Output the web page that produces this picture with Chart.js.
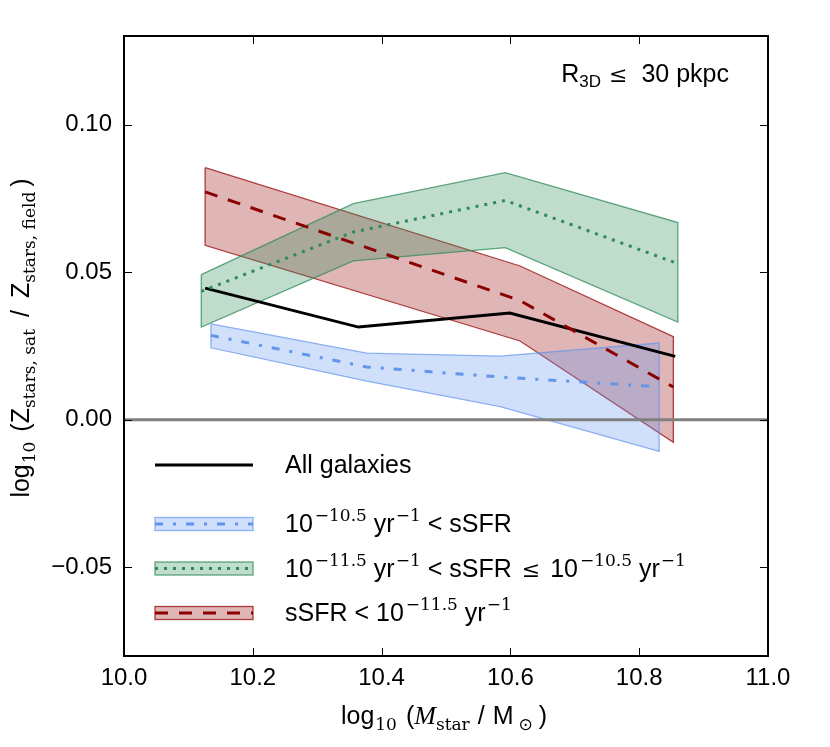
<!DOCTYPE html>
<html>
<head>
<meta charset="utf-8">
<script src="https://cdn.jsdelivr.net/npm/chart.js@4.4.1/dist/chart.umd.min.js"></script>
<style>
  html, body { margin: 0; padding: 0; background: #fff; }
  #wrap { width: 830px; height: 747px; }
</style>
</head>
<body>
<div id="wrap"><canvas id="myChart" width="830" height="747"></canvas></div>
<script>
// tick values
var xTicks = [10.0, 10.2, 10.4, 10.6, 10.8, 11.0];
var yTicks = [-0.05, 0.0, 0.05, 0.10];

// all galaxies (median)
var allX = [10.126, 10.364, 10.599, 10.856];
var allY = [0.0446, 0.0314, 0.0362, 0.0215];

// 1e-10.5 < sSFR
var blueX   = [10.135, 10.377, 10.584, 10.831];
var blueMid = [0.0286, 0.0179, 0.0145, 0.0112];
var blueHi  = [0.0325, 0.0226, 0.0216, 0.0260];
var blueLo  = [0.0244, 0.0131, 0.0045, -0.0107];

// 1e-11.5 < sSFR <= 1e-10.5
var greenX   = [10.120, 10.356, 10.592, 10.860];
var greenMid = [0.0435, 0.0636, 0.0743, 0.0529];
var greenHi  = [0.0492, 0.0732, 0.0837, 0.0668];
var greenLo  = [0.0314, 0.0538, 0.0583, 0.0331];

// sSFR < 1e-11.5
var redX   = [10.126, 10.615, 10.853];
var redMid = [0.0772, 0.0404, 0.0111];
var redHi  = [0.0854, 0.0521, 0.0282];
var redLo  = [0.0591, 0.0267, -0.0076];

var SANS = '"Liberation Sans", Arial, Helvetica, sans-serif';
var SERIF = '"DejaVu Serif", serif';

function pts(xs, ys) {
  return xs.map(function (x, i) { return {x: x, y: ys[i]}; });
}
// closed polygon: upper edge left->right, lower edge back
function band(xs, hi, lo) {
  var p = [];
  for (var i = 0; i < xs.length; i++) p.push({x: xs[i], y: hi[i]});
  for (var j = xs.length - 1; j >= 0; j--) p.push({x: xs[j], y: lo[j]});
  p.push({x: xs[0], y: hi[0]});
  return p;
}

var blueCol = '#6495ED', greenCol = '#2E8B57', redCol = '#8B0000';

function bandSet(data, fillCol, edgeCol) {
  return {data: data, fill: 'shape', backgroundColor: fillCol, borderColor: edgeCol,
          borderWidth: 1.3, pointRadius: 0, tension: 0, order: 10};
}
function lineSet(data, col, dash, order) {
  return {data: data, fill: false, borderColor: col, borderWidth: 3, borderDash: dash,
          borderCapStyle: 'butt', pointRadius: 0, tension: 0, order: order};
}

// draws text made of [text, font, dy] pieces; a plain number is a gap in px
function rich(ctx, parts, x, y, align) {
  var w = 0;
  parts.forEach(function (p) {
    if (typeof p === 'number') { w += p; return; }
    ctx.font = p[1]; w += ctx.measureText(p[0]).width;
  });
  var cx = align === 'center' ? x - w / 2 : (align === 'right' ? x - w : x);
  parts.forEach(function (p) {
    if (typeof p === 'number') { cx += p; return; }
    ctx.font = p[1];
    ctx.fillText(p[0], cx, y + (p[2] || 0));
    cx += ctx.measureText(p[0]).width;
  });
}

var big = '25px ' + SANS, sup = '17px ' + SERIF, sub = '17px ' + SERIF;
var SUP = -11, SUB = 6;

function tenTo(e) { return [['10', big], 2, ['\u2212' + e, sup, SUP]]; }
var yrInv = [[' yr', big], 1, ['\u22121', sup, SUP]];

var legendRows = [
  {kind: 'line', col: '#000', dash: [], y: 465,
   text: [['All galaxies', big]]},
  {kind: 'band', col: blueCol, fill: 'rgba(100,149,237,0.3)', edge: 'rgba(100,149,237,0.7)', dash: [8, 10, 3, 10], y: 524,
   text: tenTo('10.5').concat(yrInv, [[' < sSFR', big]])},
  {kind: 'band', col: greenCol, fill: 'rgba(46,139,87,0.3)', edge: 'rgba(46,139,87,0.75)', dash: [3, 6], y: 568.5,
   text: tenTo('11.5').concat(yrInv, [[' < sSFR', big], 10, ['\u2264', '22px ' + SERIF], 10],
                              tenTo('10.5'), yrInv)},
  {kind: 'band', col: redCol, fill: 'rgba(165,42,42,0.35)', edge: 'rgba(165,42,42,0.9)', dash: [13, 11], y: 613,
   text: [['sSFR < ', big]].concat(tenTo('11.5'), yrInv)}
];

var decor = {
  id: 'decor',
  afterDraw: function (chart) {
    var ctx = chart.ctx, a = chart.chartArea;
    var xs = chart.scales.x, ys = chart.scales.y;
    ctx.save();
    // frame
    ctx.strokeStyle = '#000';
    ctx.lineWidth = 2;
    ctx.strokeRect(a.left, a.top, a.right - a.left, a.bottom - a.top);
    // inward ticks on all four sides
    ctx.lineWidth = 1;
    ctx.beginPath();
    xTicks.forEach(function (v) {
      var px = Math.round(xs.getPixelForValue(v)) + 0.5;
      ctx.moveTo(px, a.bottom); ctx.lineTo(px, a.bottom - 8);
      ctx.moveTo(px, a.top); ctx.lineTo(px, a.top + 8);
    });
    yTicks.forEach(function (v) {
      var py = Math.round(ys.getPixelForValue(v)) + 0.5;
      ctx.moveTo(a.left, py); ctx.lineTo(a.left + 8, py);
      ctx.moveTo(a.right, py); ctx.lineTo(a.right - 8, py);
    });
    ctx.stroke();

    ctx.fillStyle = '#000';
    ctx.textBaseline = 'alphabetic';
    // x title
    rich(ctx, [['log', big], 1, ['10', sub, SUB], 9, ['(', big], ['M', 'italic 26px "Liberation Serif", serif'],
               ['star', sub, SUB], 8, ['/', big], 8, ['M', big], 5,
               ['\u2299', '17px "DejaVu Sans", sans-serif', SUB], 6, [')', big]],
         (a.left + a.right) / 2 - 2, 724, 'center');
    // y title
    ctx.save();
    ctx.translate(29, 338);
    ctx.rotate(-Math.PI / 2);
    rich(ctx, [['log', big], 1, ['10', sub, SUB], 10, ['(', big], ['Z', big], ['stars, sat', sub, SUB], 12,
               ['/', big], 12, ['Z', big], ['stars, field', sub, SUB], 5, [')', big]], 0, 0, 'center');
    ctx.restore();
    // annotation
    rich(ctx, [['R', big], ['3D', '17px ' + SANS, 5], 8, ['\u2264', '22px ' + SERIF], 14, ['30 pkpc', big]],
         729, 82, 'right');

    // legend
    var lx0 = 155, lx1 = 253, tx = 285;
    legendRows.forEach(function (r) {
      if (r.kind === 'band') {
        ctx.fillStyle = r.fill;
        ctx.fillRect(lx0, r.y - 6.5, lx1 - lx0, 13);
        ctx.strokeStyle = r.edge;
        ctx.lineWidth = 1.3;
        ctx.strokeRect(lx0, r.y - 6.5, lx1 - lx0, 13);
      }
      ctx.strokeStyle = r.col;
      ctx.lineWidth = 3;
      ctx.lineCap = 'butt';
      ctx.setLineDash(r.dash);
      ctx.beginPath();
      ctx.moveTo(lx0, r.y); ctx.lineTo(lx1, r.y);
      ctx.stroke();
      ctx.setLineDash([]);
      ctx.fillStyle = '#000';
      rich(ctx, r.text, tx, r.y + 8, 'left');
    });
    ctx.restore();
  }
};

var ctx = document.getElementById('myChart').getContext('2d');
var chartOne = new Chart(ctx, {
  type: 'line',
  data: {
    datasets: [
      bandSet(band(blueX, blueHi, blueLo), 'rgba(100,149,237,0.3)', 'rgba(100,149,237,0.7)'),
      bandSet(band(greenX, greenHi, greenLo), 'rgba(46,139,87,0.3)', 'rgba(46,139,87,0.75)'),
      bandSet(band(redX, redHi, redLo), 'rgba(165,42,42,0.35)', 'rgba(165,42,42,0.9)'),
      lineSet(pts([xTicks[0], xTicks[xTicks.length - 1]], [0, 0]), '#808080', [], 6),
      lineSet(pts(allX, allY), '#000', [], 4),
      lineSet(pts(blueX, blueMid), blueCol, [8, 10, 3, 10], 3),
      lineSet(pts(greenX, greenMid), greenCol, [3, 6], 2),
      lineSet(pts(redX, redMid), redCol, [13, 11], 1)
    ]
  },
  options: {
    responsive: false,
    animation: false,
    layout: {padding: {top: 36, right: 62, left: 0, bottom: 0}},
    plugins: {legend: {display: false}, tooltip: {enabled: false}},
    scales: {
      x: {
        type: 'linear', min: 10.0, max: 11.0,
        afterBuildTicks: function (s) { s.ticks = xTicks.map(function (v) { return {value: v}; }); },
        afterFit: function (s) { s.height = 91; },
        grid: {display: false, drawTicks: false},
        border: {display: false},
        ticks: {color: '#000', padding: 8, font: {family: SANS, size: 24},
                callback: function (v) { return Number(v).toFixed(1); }}
      },
      y: {
        type: 'linear', min: -0.08, max: 0.13,
        afterBuildTicks: function (s) { s.ticks = yTicks.map(function (v) { return {value: v}; }); },
        afterFit: function (s) { s.width = 124; },
        grid: {display: false, drawTicks: false},
        border: {display: false},
        ticks: {color: '#000', padding: 12, font: {family: SANS, size: 24},
                callback: function (v) { return Number(v).toFixed(2).replace('-', '\u2212'); }}
      }
    }
  },
  plugins: [decor]
});
</script>
</body>
</html>
